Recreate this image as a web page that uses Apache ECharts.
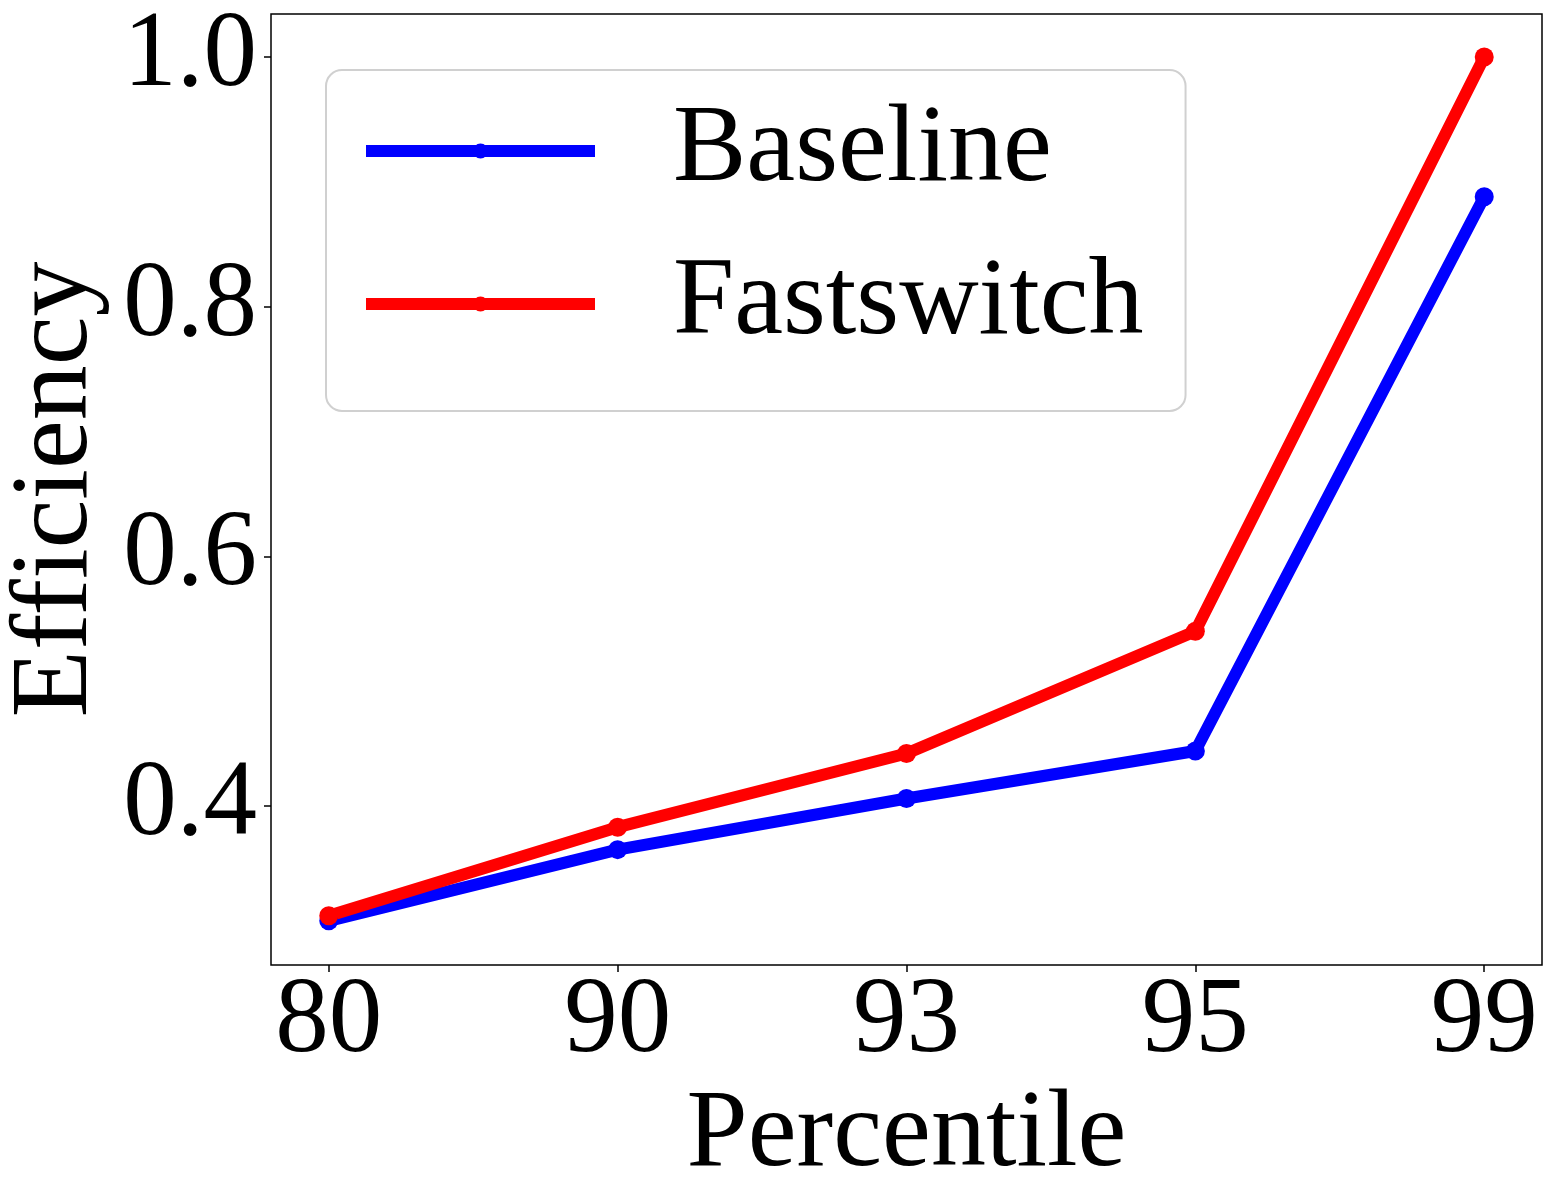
<!DOCTYPE html>
<html><head><meta charset="utf-8">
<script src="https://cdn.jsdelivr.net/npm/echarts@6/dist/echarts.min.js"></script>
<style>html,body{margin:0;padding:0;background:#fff}#c{width:1557px;height:1200px}</style>
</head><body><div id="c"></div>
<script>
const categories = ['80', '90', '93', '95', '99'];
const baseline = [0.308, 0.365, 0.406, 0.444, 0.888];
const fastswitch = [0.312, 0.383, 0.442, 0.540, 1.0];
const yTicks = [0.4, 0.6, 0.8, 1.0];
const FONT = "'Liberation Serif', 'Times New Roman', serif";
const FS = 107;

const chart = echarts.init(document.getElementById('c'), null, {renderer: 'canvas'});
const toPts = arr => arr.map((v, i) => [i, v]);
chart.setOption({
  animation: false,
  backgroundColor: '#fff',
  grid: {left: 271, right: 15, top: 14, bottom: 235, containLabel: false, outerBoundsMode: 'none',
    show: true, borderColor: '#000', borderWidth: 1.5, backgroundColor: 'transparent'},
  xAxis: {
    type: 'value', min: -0.2, max: 4.2,
    name: 'Percentile', nameLocation: 'middle', nameGap: 113,
    nameTextStyle: {fontFamily: FONT, fontSize: 110, color: '#000'},
    axisLine: {show: false, onZero: false},
    splitLine: {show: false},
    axisTick: {show: true, length: 7, lineStyle: {color: '#000', width: 1.5}, customValues: [0,1,2,3,4]},
    axisLabel: {customValues: [0,1,2,3,4], margin: 4, fontFamily: FONT, fontSize: FS, color: '#000',
      formatter: v => categories[Math.round(v)]}
  },
  yAxis: {
    type: 'value', min: 0.2726, max: 1.0344,
    name: 'Efficiency', nameLocation: 'middle', nameGap: 158, nameRotate: 90,
    nameTextStyle: {fontFamily: FONT, fontSize: 110, color: '#000'},
    axisLine: {show: false, onZero: false},
    splitLine: {show: false},
    axisTick: {show: true, length: 7, lineStyle: {color: '#000', width: 1.5}, customValues: yTicks},
    axisLabel: {customValues: yTicks, margin: 14, fontFamily: FONT, fontSize: FS, color: '#000',
      padding: [14, 0, 0, 0], formatter: v => v.toFixed(1)}
  },
  legend: {
    orient: 'vertical', left: 326, top: 70,
    padding: [26, 42, 52, 34], itemGap: 43,
    itemWidth: 229, itemHeight: 19,
    lineStyle: {width: 12},
    borderColor: '#d0d0d0', borderWidth: 2, borderRadius: 16, backgroundColor: '#fff',
    textStyle: {fontFamily: FONT, fontSize: 110, color: '#000', padding: [14, 0, 0, 73]},
    data: ['Baseline', 'Fastswitch']
  },
  series: [
    {name: 'Baseline', type: 'line', data: toPts(baseline), symbol: 'circle', symbolSize: 19,
      lineStyle: {color: '#0000ff', width: 12}, itemStyle: {color: '#0000ff'}},
    {name: 'Fastswitch', type: 'line', data: toPts(fastswitch), symbol: 'circle', symbolSize: 19,
      lineStyle: {color: '#ff0000', width: 12}, itemStyle: {color: '#ff0000'}}
  ]
});
</script></body></html>
